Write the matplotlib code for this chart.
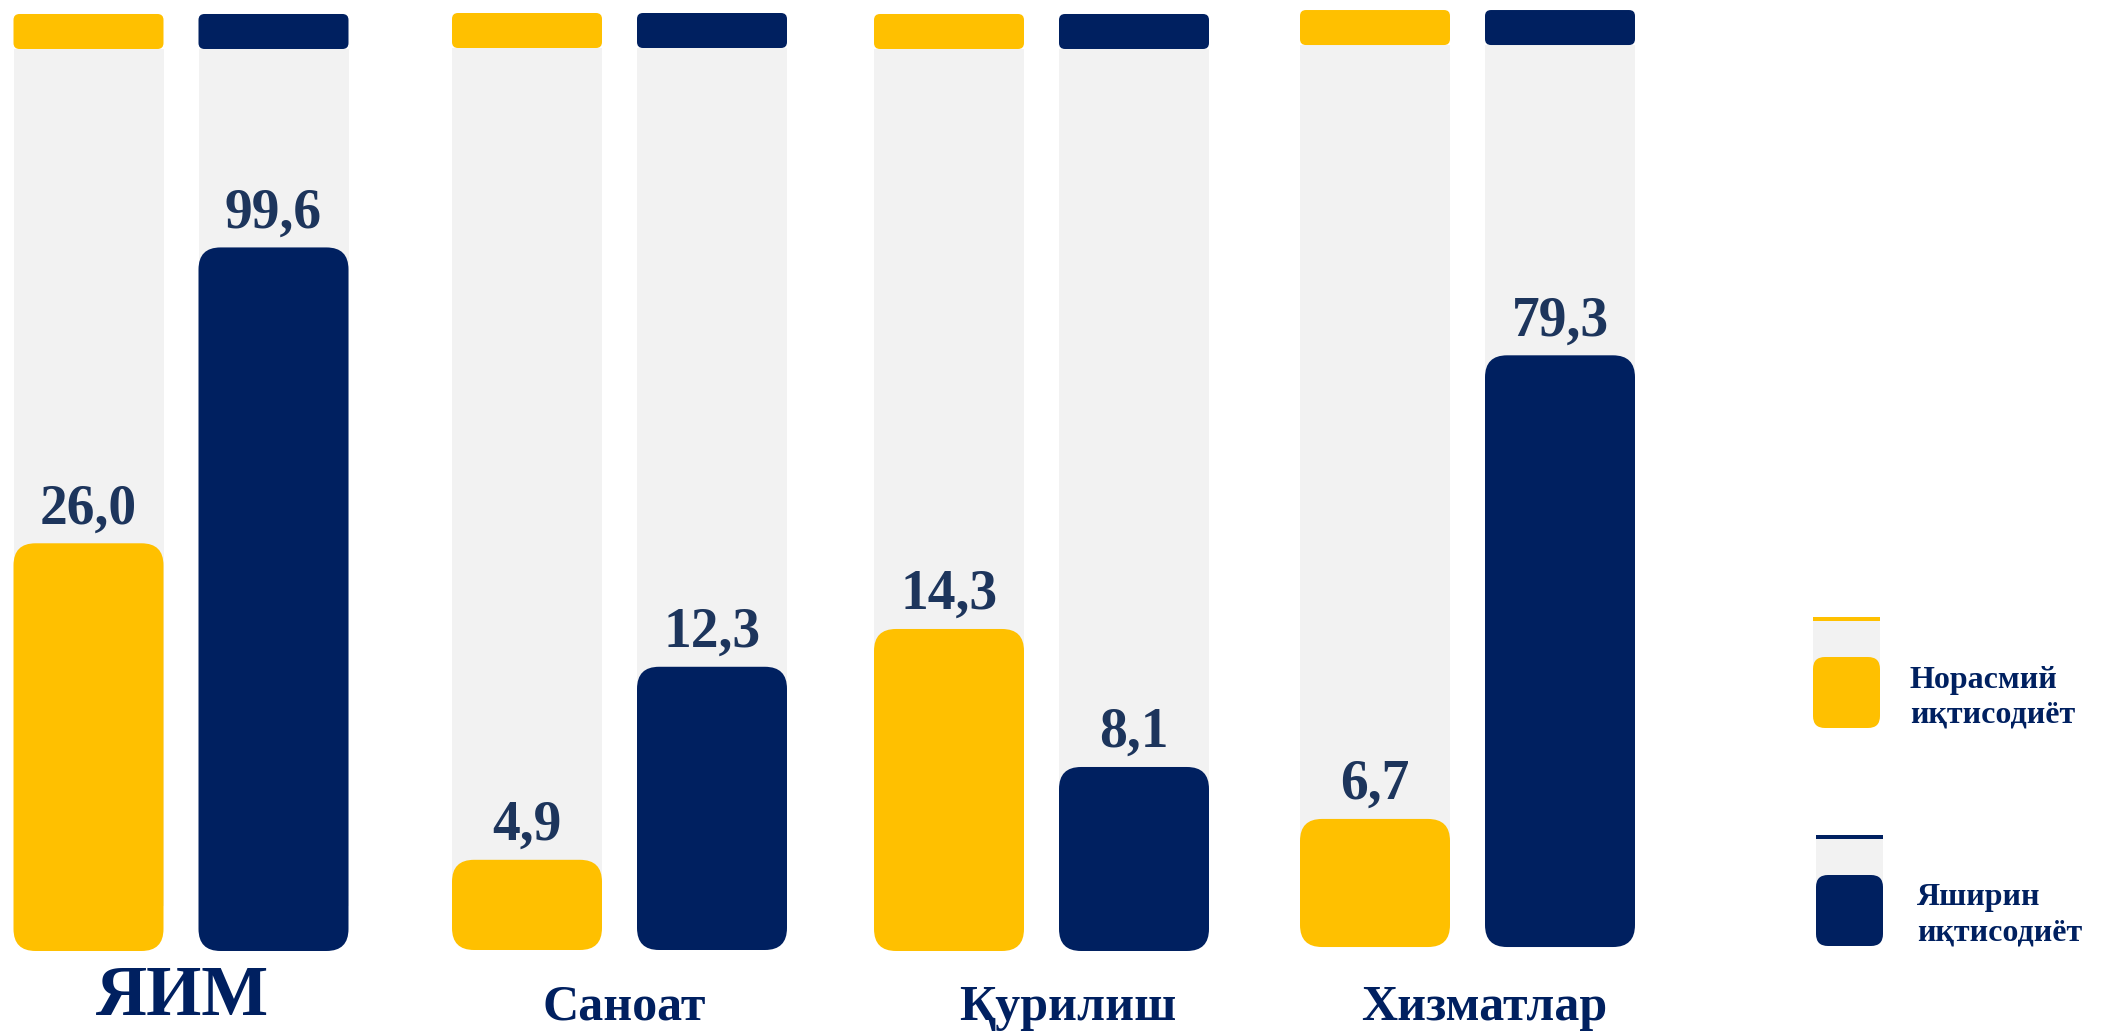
import matplotlib
matplotlib.use("Agg")
import matplotlib.pyplot as plt
from matplotlib.patches import FancyBboxPatch, Rectangle

# ---------------- data ----------------
categories = ["ЯИМ", "Саноат", "Қурилиш", "Хизматлар"]
informal_values = [26.0, 4.9, 14.3, 6.7]      # Норасмий иқтисодиёт (labels)
hidden_values = [99.6, 12.3, 8.1, 79.3]       # Яширин иқтисодиёт (labels)
# displayed bar level, % of the grey track (as drawn in the infographic)
informal_levels = [45.2, 10.0, 35.7, 14.2]
hidden_levels = [78.0, 31.4, 20.4, 65.6]
series_names = ["Норасмий\nиқтисодиёт", "Яширин\nиқтисодиёт"]

# ---------------- style ----------------
YELLOW = "#FFC000"
NAVY = "#002060"
GREY = "#F2F2F2"
LABEL_C = "#1D355C"
SERIF = ["Liberation Serif", "DejaVu Serif"]

W, H = 2101, 1031
DPI = 100
PX = 9.02          # pixels per level unit
BASE = 950         # pixel row of level 0

fig = plt.figure(figsize=(W / DPI, H / DPI), dpi=DPI)
fig.patch.set_facecolor("white")

ax = fig.add_axes([0, 0, 1, 1])
ax.set_xlim(0, W)
ax.set_ylim(-(H - BASE) / PX, BASE / PX)
ax.axis("off")

group_centers = [181, 619.5, 1041.5, 1467.5]
group_shift = [-0.11, 0.0, -0.11, 0.33]   # tiny vertical offsets of the groups
bar_w = 150
half_gap = 92.5
cap_h = 35 / PX
aspect = 1 / PX


def rbox(ax_, x, y, w, h, r, color, asp, z):
    p = FancyBboxPatch((x, y), w, h,
                       boxstyle=f"round,pad=0,rounding_size={r}",
                       mutation_aspect=asp, linewidth=0,
                       facecolor=color, edgecolor="none", zorder=z)
    ax_.add_patch(p)


for i, gc in enumerate(group_centers):
    s = group_shift[i]
    for off, lvl, val, col in [(-half_gap, informal_levels[i], informal_values[i], YELLOW),
                               (half_gap, hidden_levels[i], hidden_values[i], NAVY)]:
        x0 = gc + off - bar_w / 2
        # grey track
        ax.add_patch(Rectangle((x0, s + 5), bar_w, 100 - 5, facecolor=GREY,
                               edgecolor="none", zorder=1))
        # cap
        rbox(ax, x0, s + 100, bar_w, cap_h, 6, col, aspect, 2)
        # bar
        rbox(ax, x0, s, bar_w, lvl, 22, col, aspect, 3)
        # value label
        ax.text(gc + off, s + lvl + 2.2, f"{val:.1f}".replace(".", ","),
                ha="center", va="baseline", fontsize=40, fontweight="bold",
                family=SERIF, color=LABEL_C, zorder=4)

# ---------------- pixel overlay: category labels + legend ----------------
ax2 = fig.add_axes([0, 0, 1, 1])
ax2.set_xlim(0, W)
ax2.set_ylim(H, 0)
ax2.axis("off")
ax2.patch.set_alpha(0)

cat_x = [182, 624, 1068, 1484]
cat_base = [1015, 1020, 1020, 1020]
cat_size = [51, 36, 36, 36]
for name, x, yb, fs in zip(categories, cat_x, cat_base, cat_size):
    ax2.text(x, yb, name, ha="center", va="baseline", fontsize=fs,
             fontweight="bold", family=SERIF, color=NAVY)

leg_x = [1813, 1816]
leg_top = [617, 835]
leg_cols = [YELLOW, NAVY]
leg_text_x = [1910, 1917]
leg_text_base = [723, 940]   # baseline of the last line
for lx, lt, col, tx, tb, name in zip(leg_x, leg_top, leg_cols, leg_text_x,
                                      leg_text_base, series_names):
    ax2.add_patch(Rectangle((lx, lt), 67, 4, facecolor=col, edgecolor="none"))
    ax2.add_patch(Rectangle((lx, lt + 4), 67, 45, facecolor=GREY, edgecolor="none"))
    rbox(ax2, lx, lt + 40, 67, 71, 12, col, 1, 3)
    ax2.text(tx, tb, name, ha="left", va="baseline", fontsize=23,
             fontweight="bold", family=SERIF, color=NAVY, linespacing=1.28)

fig.savefig("out.png", dpi=DPI, facecolor="white")
